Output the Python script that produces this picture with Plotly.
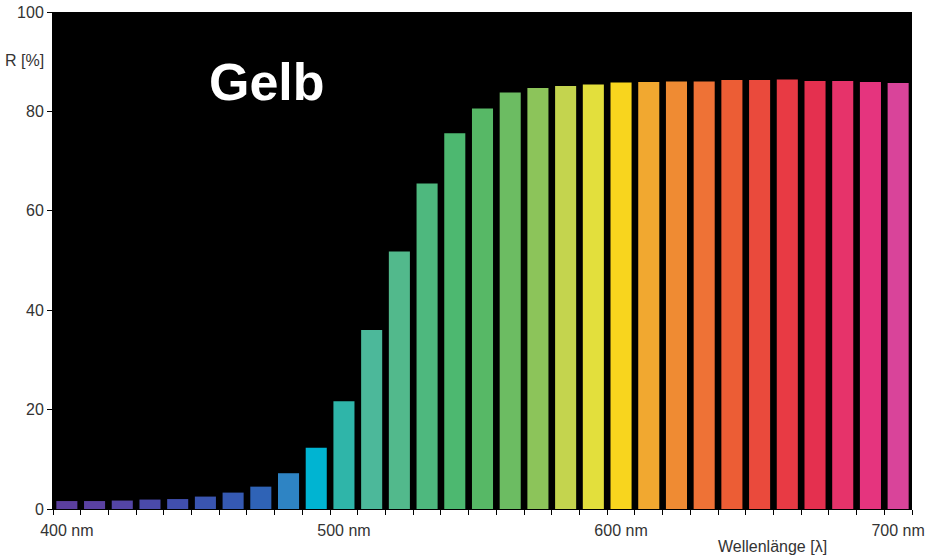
import plotly.graph_objects as go

# Reflectance spectrum of a yellow sample, 400-700 nm in 10 nm steps
wavelengths = list(range(400, 701, 10))
reflectance = [
    1.6, 1.6, 1.7, 1.9, 2.0, 2.5, 3.3, 4.5, 7.2, 12.3,
    21.7, 36.0, 51.8, 65.5, 75.6, 80.6, 83.8, 84.7, 85.1, 85.4,
    85.8, 85.9, 86.0, 86.0, 86.3, 86.3, 86.4, 86.1, 86.1, 85.9,
    85.7,
]
bar_colors = [
    "#5b3f9e", "#5a41a1", "#5445a6", "#4a4aab", "#414fae", "#3a55b0",
    "#3559b2", "#2f63b6", "#2e84c4", "#00b4d2", "#2fb5a9", "#4cb89a",
    "#52b98c", "#4eb87e", "#4db870", "#57b866", "#6cbc62", "#8cc45a",
    "#c4d44e", "#e3df3c", "#f8d51e", "#f1a830", "#ef8b33", "#ee7236",
    "#ec5d35", "#ea4a3c", "#e83a44", "#e4304f", "#e6336a", "#e5347e",
    "#d9449a",
]
x_labels = ["400 nm", "500 nm", "600 nm", "700 nm"]
x_label_pos = [400, 500, 600, 700]
y_ticks = [0, 20, 40, 60, 80, 100]

fig = go.Figure(
    go.Bar(
        x=wavelengths,
        y=reflectance,
        width=7.6,
        marker=dict(color=bar_colors, line=dict(width=0)),
        hoverinfo="x+y",
    )
)

font_family = "Liberation Sans, Arial, sans-serif"
label_font = dict(size=16, color="#333333", family=font_family)

fig.update_layout(
    width=927,
    height=555,
    margin=dict(l=53, r=15, t=12, b=46),
    paper_bgcolor="white",
    plot_bgcolor="black",
    showlegend=False,
    font=label_font,
    xaxis=dict(
        range=[395, 705],
        automargin=False,
        tickvals=x_label_pos,
        ticktext=x_labels,
        ticks="outside",
        ticklen=7,
        tickcolor="rgba(0,0,0,0)",
        showgrid=False,
        zeroline=False,
        showline=True,
        linecolor="black",
        linewidth=1,
        minor=dict(
            tickvals=[w - 5 for w in wavelengths] + [705],
            ticks="outside",
            ticklen=5,
            tickcolor="black",
            tickwidth=1,
            showgrid=False,
        ),
        tickfont=label_font,
    ),
    yaxis=dict(
        range=[0, 100],
        automargin=False,
        tickvals=y_ticks,
        ticks="outside",
        ticklen=5,
        tickcolor="black",
        showgrid=False,
        zeroline=False,
        showline=True,
        linecolor="black",
        linewidth=1,
        tickfont=label_font,
    ),
    annotations=[
        dict(
            text="R [%]",
            xref="paper", yref="paper",
            x=-0.033, y=0.903,
            xanchor="center", yanchor="middle",
            showarrow=False,
            font=label_font,
        ),
        dict(
            text="<b>Gelb</b>",
            xref="paper", yref="paper",
            x=0.249, y=0.859,
            xanchor="center", yanchor="middle",
            showarrow=False,
            font=dict(size=52, color="white", family=font_family),
        ),
        dict(
            text="Wellenlänge [λ]",
            xref="paper", yref="paper",
            x=0.838, y=-0.076,
            xanchor="center", yanchor="middle",
            showarrow=False,
            font=label_font,
        ),
    ],
)

fig.write_html("out.html")
